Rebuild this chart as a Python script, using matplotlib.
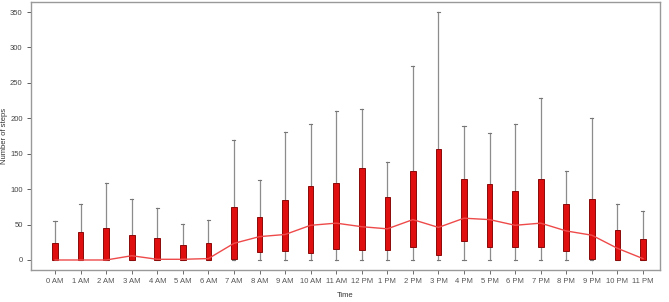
import matplotlib
matplotlib.use("Agg")
import matplotlib.pyplot as plt
from matplotlib.patches import Rectangle

plt.rcParams['font.family'] = ['Liberation Sans', 'DejaVu Sans']

hours = ['0 AM', '1 AM', '2 AM', '3 AM', '4 AM', '5 AM', '6 AM', '7 AM', '8 AM', '9 AM',
         '10 AM', '11 AM', '12 PM', '1 PM', '2 PM', '3 PM', '4 PM', '5 PM', '6 PM', '7 PM',
         '8 PM', '9 PM', '10 PM', '11 PM']
whisker_lo = [0, 0, 0, 0, 0, 0, 0, 0, 0, 0, 0, 0, 0, 0, 0, 0, 0, 0, 0, 0, 0, 0, 0, 0]
box_lo = [0, 0, 0, 0, 0, 0, 0, 1, 11, 13, 10, 16, 14, 14, 19, 7.5, 27, 18, 18, 19, 12, 2, 0, 0]
median = [0, 0, 0, 6, 1, 1, 2, 23.5, 33, 36, 49, 52, 47, 44, 57, 46, 59, 57, 49, 52, 41, 35, 16.5, 2]
box_hi = [24.5, 39.5, 45, 35.5, 31, 21, 24.5, 75, 60, 84.5, 105, 108, 130, 88.5, 125.5, 157,
          115, 107, 98, 115, 78.5, 86.5, 43, 29]
whisker_hi = [55, 79, 108.5, 86.5, 74, 51.5, 57, 169, 112.5, 180.5, 192, 211, 213.5, 138, 274.5,
              350, 188.5, 179, 191.5, 228.5, 125.5, 200.5, 78.5, 69]

fig = plt.figure(figsize=(6.69, 3.02), dpi=100)
ax = fig.add_axes([0.0463, 0.106, 0.940, 0.887])

x = list(range(len(hours)))
w = 0.22
for i in x:
    ax.plot([i, i], [box_hi[i], whisker_hi[i]], color='#8c8c8c', lw=0.9, zorder=1)
    ax.plot([i, i], [whisker_lo[i], box_lo[i]], color='#8c8c8c', lw=0.9, zorder=1)
    ax.plot([i - 0.06, i + 0.06], [whisker_hi[i]] * 2, color='#777777', lw=0.8, zorder=1)
    ax.plot([i - 0.06, i + 0.06], [whisker_lo[i]] * 2, color='#777777', lw=0.8, zorder=1)
    ax.add_patch(Rectangle((i - w / 2, box_lo[i]), w, box_hi[i] - box_lo[i],
                           facecolor='#e00f0f', edgecolor='#8a0a0a', lw=0.7, zorder=2))

ax.plot(x, median, color='#ee4a4a', lw=1.0, zorder=3)

ax.set_xlim(-0.94, 23.66)
ax.set_ylim(-14.1, 364)
ax.set_xticks(x)
ax.set_xticklabels(hours)
ax.set_yticks([0, 50, 100, 150, 200, 250, 300, 350])
ax.tick_params(axis='both', labelsize=5.5, colors='#444444', length=3, width=0.6, pad=3)
ax.tick_params(axis='x', colors='#555555')
for s in ax.spines.values():
    s.set_color('#999999')
    s.set_linewidth(1.0)

ax.set_xlabel('Time', fontsize=5.5, color='#333333', labelpad=5)
fig.text(5 / 669, 1 - 136 / 302, 'Number of steps', rotation=90, fontsize=5.5,
         color='#333333', ha='center', va='center')

fig.savefig('out.png', dpi=100)
